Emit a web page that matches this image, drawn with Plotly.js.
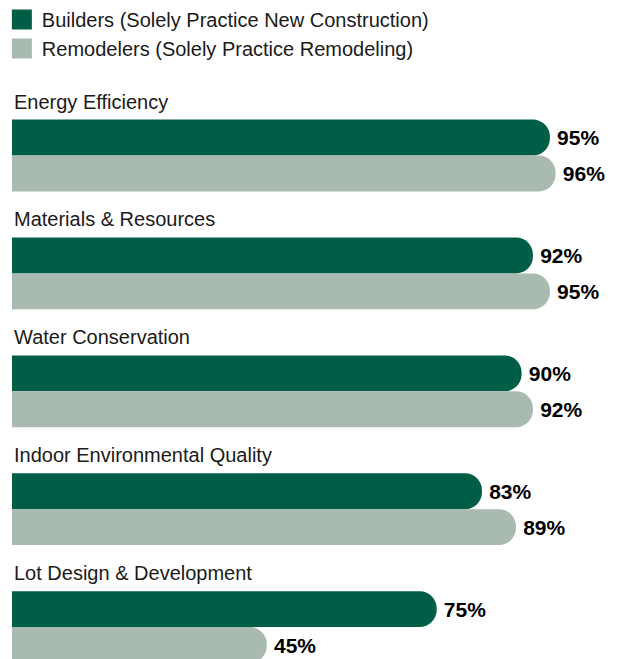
<!DOCTYPE html>
<html>
<head>
<meta charset="utf-8">
<script src="https://cdn.plot.ly/plotly-3.0.1.min.js"></script>
<style>html,body{margin:0;padding:0;background:#fff;}#chart{width:619px;height:659px;}</style>
</head>
<body>
<div id="chart"></div>
<script>
const categories = ["Energy Efficiency", "Materials & Resources", "Water Conservation", "Indoor Environmental Quality", "Lot Design & Development"];
const builders = [95, 92, 90, 83, 75];
const remodelers = [96, 95, 92, 89, 45];
const seriesNames = ["Builders (Solely Practice New Construction)", "Remodelers (Solely Practice Remodeling)"];
const colors = ["#005e46", "#a9bab0"];

const labelFont = "Liberation Sans, Arial, sans-serif";
const barW = 0.3044;

function mk(name, vals, color, offset) {
  return {
    type: "bar", orientation: "h", name: name,
    y: categories, x: vals,
    width: barW, offset: offset,
    marker: {color: color, cornerradius: "50%", line: {width: 0}},
    text: vals.map(v => "\u2009" + v + "%"), textposition: "outside",
    textfont: {family: labelFont, size: 21, color: "#000", weight: "bold"},
    cliponaxis: false, hoverinfo: "skip"
  };
}

const data = [
  mk(seriesNames[0], builders, colors[0], -barW),
  mk(seriesNames[1], remodelers, colors[1], 0)
];

const annotations = categories.map(c => ({
  xref: "paper", yref: "y", x: 0, y: c, xanchor: "left", yanchor: "middle",
  yshift: 54, text: c, showarrow: false,
  font: {family: labelFont, size: 20, color: "#1a1a1a"}
}));

const layout = {
  width: 619, height: 659,
  margin: {l: 12, r: 0, t: 0, b: 0},
  paper_bgcolor: "#fff", plot_bgcolor: "#fff",
  barmode: "overlay",
  xaxis: {range: [0, 107.2], showgrid: false, zeroline: false, showticklabels: false, showline: false, ticks: "", fixedrange: true},
  yaxis: {type: "category", range: [4.2706, -1.302], showgrid: false, zeroline: false, showticklabels: false, showline: false, ticks: "", fixedrange: true},
  showlegend: true,
  legend: {x: -0.0167, y: 1.003, xanchor: "left", yanchor: "top", orientation: "v", traceorder: "normal",
    font: {family: labelFont, size: 20, color: "#1a1a1a"}, bgcolor: "rgba(0,0,0,0)", tracegroupgap: 0},
  annotations: annotations,
  hovermode: false
};

function squareLegend() {
  document.querySelectorAll("#chart .legend .legendpoints path").forEach(p => {
    p.setAttribute("d", "M10,10H-10V-10H10Z");
  });
}

Plotly.newPlot("chart", data, layout, {displayModeBar: false, staticPlot: true}).then(squareLegend);
</script>
</body>
</html>
